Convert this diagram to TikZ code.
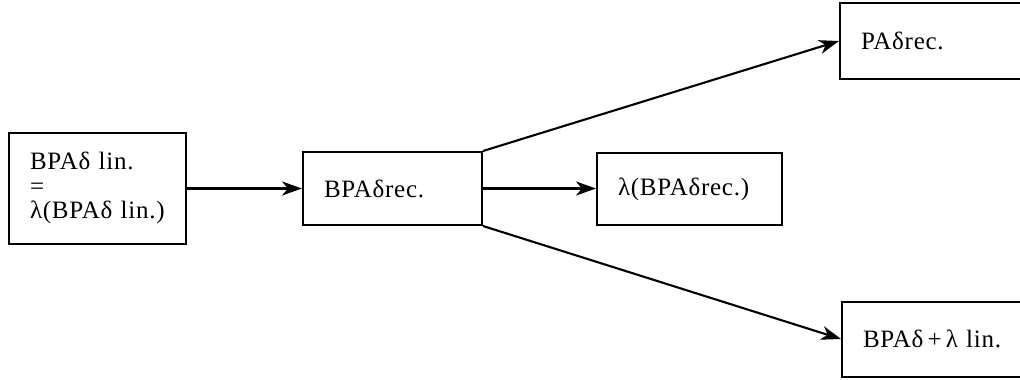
\documentclass[tikz,border=0pt]{standalone}
\usepackage{fontspec}
\setmainfont{Liberation Serif}[LetterSpace=3]
\usetikzlibrary{arrows.meta}
\begin{document}
\begin{tikzpicture}[x=1pt,y=-1pt,
  box/.style={draw, line width=2pt, rectangle, inner xsep=21pt, inner ysep=0pt,
    align=left, font=\fontsize{25}{24.5}\selectfont},
  conn/.style={line width=2.1pt, -{Stealth[length=20pt,width=14pt,inset=6pt]}}]
\path[use as bounding box] (0,0) rectangle (1020,380);
\clip (0,0) rectangle (1020,380);
\node[box, minimum width=177pt, minimum height=111pt, text width=135pt] (b1) at (97.5,188)
  {BPAδ lin.\\=\\λ(BPAδ lin.)};
\node[box, minimum width=179pt, minimum height=73pt, text width=137pt] (b2) at (392.5,188.5)
  {BPAδrec.};
\node[box, minimum width=185pt, minimum height=72pt, text width=143pt] (b3) at (689.5,189)
  {λ(BPAδrec.)};
\node[box, minimum width=190pt, minimum height=76pt, text width=148pt] (b4) at (935,41)
  {PAδrec.};
\node[box, minimum width=188pt, minimum height=75pt, text width=146pt] (b5) at (936,339)
  {BPAδ\,+\,λ lin.};
\draw[conn] (b1.east |- b2.west) -- (b2.west);
\draw[conn] (b2.east) -- (b2.east -| b3.west);
\draw[conn] (b2.north east) -- (b4.west);
\draw[conn] (b2.south east) -- (b5.west);
\end{tikzpicture}
\end{document}
